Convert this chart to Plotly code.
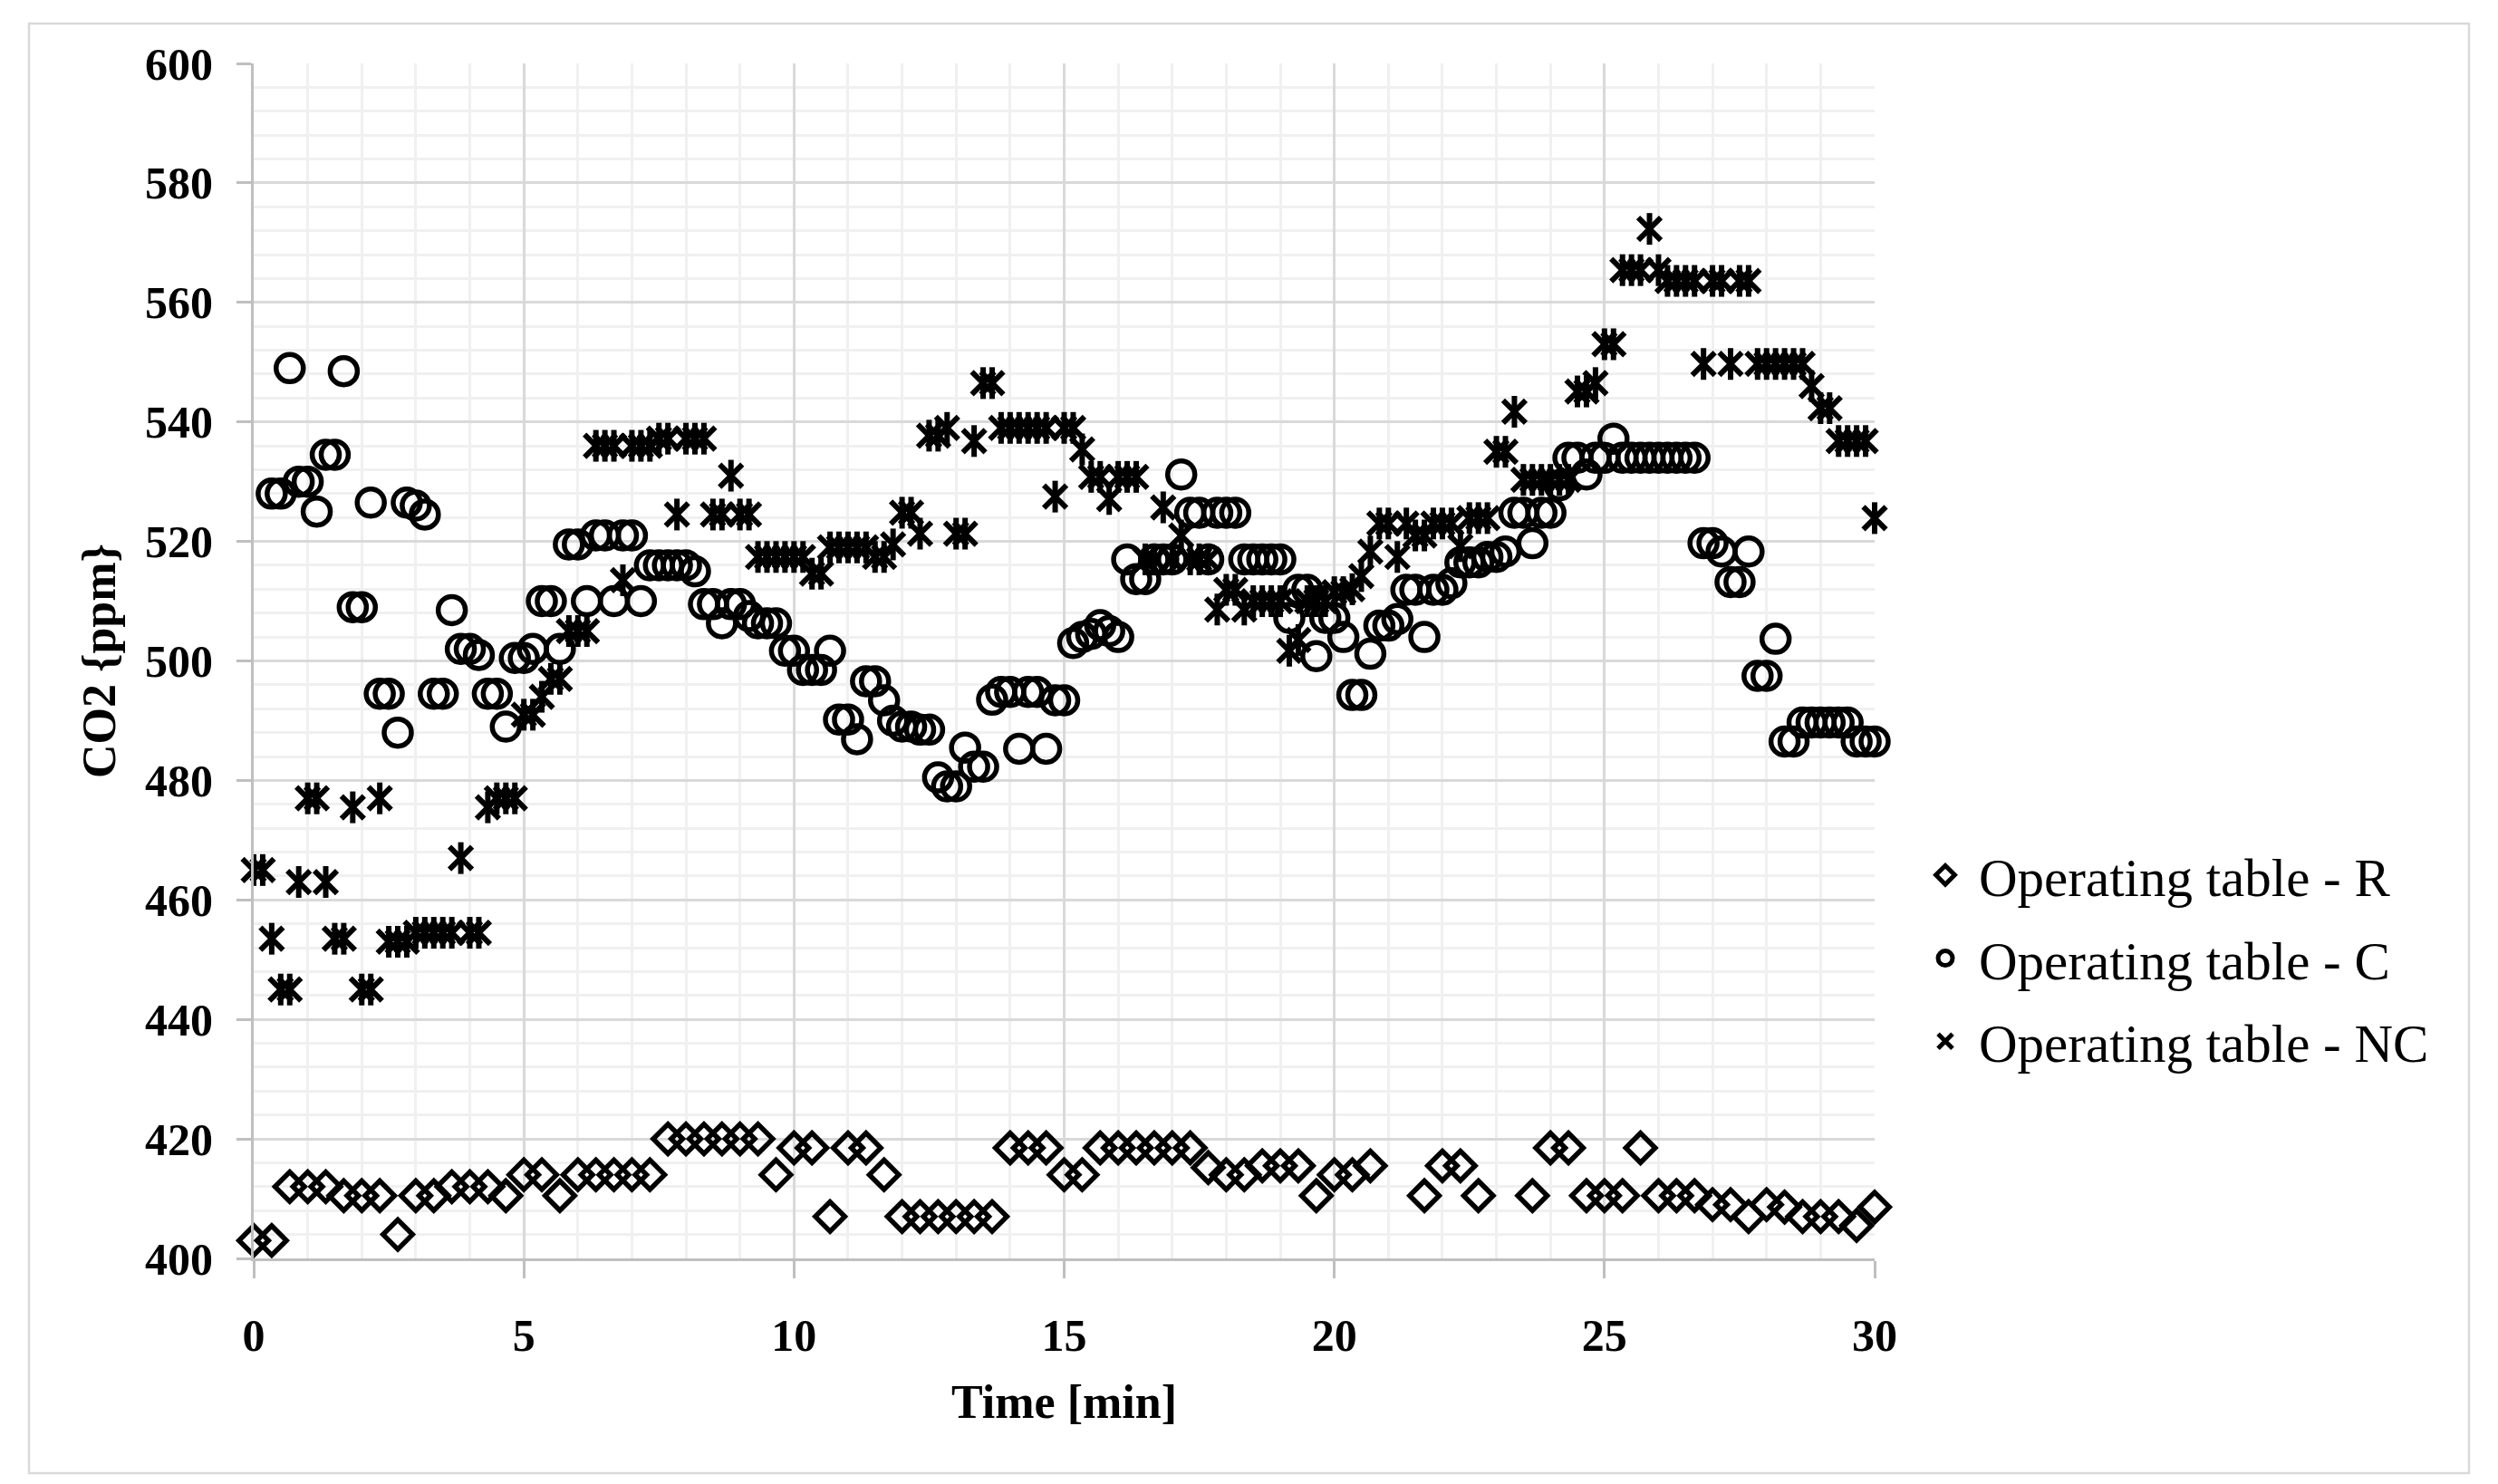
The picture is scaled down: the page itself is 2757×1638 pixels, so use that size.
import plotly.graph_objects as go

# ---------------- data ----------------
# Operating table - R : one reading every 20 s (1/3 min), None = no reading
step_r_min = 1 / 3
r_values = [403, 403, 412, 412, 412, 410.5, 410.5, 410.5, 404, 410.5,
            410.5, 412, 412, 412, 410.5, 414, 414, 410.5, 414, 414,
            414, 414, 414, 420, 420, 420, 420, 420, 420, 414,
            418.5, 418.5, 407, 418.5, 418.5, 414, 407, 407, 407, 407,
            407, 407, 418.5, 418.5, 418.5, 414, 414, 418.5, 418.5, 418.5,
            418.5, 418.5, 418.5, 415.2, 414, 414, 415.5, 415.5, 415.5, 410.5,
            414, 414, 415.5, None, None, 410.5, 415.5, 415.5, 410.5, None,
            None, 410.5, 418.5, 418.5, 410.5, 410.5, 410.5, 418.5, 410.5, 410.5,
            410.5, 409, 409, 407, 409, 408.6, 407, 407, 407, 405.5,
            408.6]

# Operating table - C and NC : one reading every 10 s (1/6 min)
step_cn_min = 1 / 6
c_values = [None, None, 528, 528, 549, 530, 530, 525, 534.5, 534.5,
            548.5, 509, 509, 526.5, 494.5, 494.5, 488, 526.5, 526, 524.5,
            494.5, 494.5, 508.5, 502, 502, 501, 494.5, 494.5, 489, 500.5,
            500.5, 502, 510, 510, 502, 519.5, 519.5, 510, 521, 521,
            510, 521, 521, 510, 516, 516, 516, 516, 516, 515,
            509.5, 509.5, 506.3, 509.5, 509.5, 507.5, 506.3, 506.3, 506.3, 501.7,
            501.7, 498.5, 498.5, 498.5, 501.7, 490.2, 490.2, 486.9, 496.6, 496.6,
            493.4, 490, 489, 489, 488.5, 488.5, 480.5, 479, 479, 485.5,
            482.3, 482.3, 493.5, 494.8, 494.8, 485.3, 494.8, 494.8, 485.3, 493.4,
            493.4, 503, 504, 504.5, 506, 505, 504, 517, 513.7, 513.7,
            517, 517, 517, 531.2, 524.8, 524.8, 517, 524.8, 524.8, 524.8,
            517, 517, 517, 517, 517, 507.2, 511.9, 511.9, 500.8, 507.2,
            507.2, 504, 494.3, 494.3, 501.2, 505.9, 505.9, 507, 511.9, 511.9,
            504, 511.9, 511.9, 513, 516.5, 516.5, 516.5, 517.4, 517.4, 518.3,
            524.8, 524.8, 519.7, 524.8, 524.8, 529.4, 534, 534, 531.2, 534,
            534, 537.2, 534, 534, 534, 534, 534, 534, 534, 534,
            534, 519.7, 519.7, 518.3, 513.2, 513.2, 518.3, 497.5, 497.5, 503.7,
            486.5, 486.5, 489.7, 489.7, 489.7, 489.7, 489.7, 489.7, 486.5, 486.5,
            486.5]

nc_values = [465, 465, 453.5, 445, 445, 463, 477, 477, 463, 453.5,
             453.5, 475.5, 445, 445, 477, 453, 453, 453, 454.5, 454.5,
             454.5, 454.5, 454.5, 467, 454.5, 454.5, 475.5, 477, 477, 477,
             491, 491, 494, 497, 497, 505, 505, 505, 536, 536,
             536, 513.5, 536, 536, 536, 537.2, 537.2, 524.5, 537.2, 537.2,
             537.2, 524.5, 524.5, 531, 524.5, 524.5, 517.4, 517.4, 517.4, 517.4,
             517.4, 517.4, 514.6, 514.6, 519, 519, 519, 519, 519, 517.4,
             517.4, 519.5, 524.8, 524.8, 521.3, 537.7, 537.7, 539, 521.3, 521.3,
             536.8, 546.5, 546.5, 539, 539, 539, 539, 539, 539, 527.5,
             539, 539, 535.4, 530.8, 530.8, 527.1, 530.8, 530.8, 530.8, 517,
             517, 525.7, 517, 521, 517, 517, 517, 508.6, 511.9, 511.9,
             508.6, 510, 510, 510, 510, 501.7, 503.5, 510, 510, 510,
             511.5, 511.5, 512, 514.2, 518.3, 523, 523, 517.4, 523, 521,
             521, 523, 523, 523, 519.2, 523.9, 523.9, 523.9, 535, 535,
             541.7, 530.3, 530.3, 530.3, 530.3, 530.3, 530.3, 545.1, 545.1, 546.5,
             553, 553, 565.4, 565.4, 565.4, 572.3, 565.4, 563.6, 563.6, 563.6,
             563.6, 549.7, 563.6, 563.6, 549.7, 563.6, 563.6, 549.7, 549.7, 549.7,
             549.7, 549.7, 549.7, 546, 542.3, 542.3, 536.8, 536.8, 536.8, 536.8,
             523.9]

series_names = ["Operating table - R", "Operating table - C", "Operating table - NC"]

t_r = [round(i * step_r_min, 4) for i in range(len(r_values))]
t_c = [round(i * step_cn_min, 4) for i in range(len(c_values))]
t_nc = [round(i * step_cn_min, 4) for i in range(len(nc_values))]

# ---------------- figure ----------------
FONT = "Liberation Serif, Times New Roman, serif"
BLACK = "#000000"

fig = go.Figure()

fig.add_trace(go.Scatter(
    x=t_r, y=r_values, mode="markers", name=series_names[0],
    legendgroup="r", cliponaxis=False,
    marker=dict(symbol="diamond-open", size=25, color=BLACK,
                line=dict(width=5.5, color=BLACK)),
))
fig.add_trace(go.Scatter(
    x=t_c, y=c_values, mode="markers", name=series_names[1],
    legendgroup="c", cliponaxis=False,
    marker=dict(symbol="circle-open", size=30, color=BLACK,
                line=dict(width=5.5, color=BLACK)),
))
fig.add_trace(go.Scatter(
    x=t_nc, y=nc_values, mode="markers", name=series_names[2],
    legendgroup="nc", cliponaxis=False,
    marker=dict(symbol="x-thin-open", size=25, color=BLACK,
                line=dict(width=6, color=BLACK)),
))
# vertical bar of the NC asterisk
fig.add_trace(go.Scatter(
    x=t_nc, y=nc_values, mode="markers", name=series_names[2],
    legendgroup="nc", showlegend=False, cliponaxis=False, hoverinfo="skip",
    marker=dict(symbol="line-ns-open", size=25, color=BLACK,
                line=dict(width=6, color=BLACK)),
))

W, H = 2757, 1638
ML, MR, MT, MB = 280, 688, 70, 249
pw, ph = W - ML - MR, H - MT - MB

axis_common = dict(
    showline=True, linecolor="#bfbfbf", linewidth=3,
    showgrid=True, gridcolor="#d9d9d9", gridwidth=3,
    zeroline=False, ticks="outside", tickcolor="#bfbfbf", tickwidth=3,
    tickfont=dict(family=FONT, size=50, color=BLACK, weight="bold"),
)

fig.update_xaxes(
    range=[0, 30], tick0=0, dtick=5, ticklen=19, ticklabelstandoff=20,
    minor=dict(dtick=1, showgrid=True, gridcolor="#f0f0f0", gridwidth=3, ticks=""),
    title=dict(text="Time [min]", standoff=28,
               font=dict(family=FONT, size=52, color=BLACK, weight="bold")),
    **axis_common,
)
fig.update_yaxes(
    range=[400, 600], tick0=400, dtick=20, ticklen=16, ticklabelstandoff=16,
    minor=dict(dtick=4, showgrid=True, gridcolor="#f0f0f0", gridwidth=3, ticks=""),
    title=dict(text="CO2 {ppm}", standoff=16,
               font=dict(family=FONT, size=52, color=BLACK, weight="bold")),
    **axis_common,
)

# outer chart border
fig.add_shape(type="rect", xref="paper", yref="paper",
              x0=(32 - ML) / pw, x1=(2725 - ML) / pw,
              y0=(MT + ph - 1626) / ph, y1=(MT + ph - 26) / ph,
              line=dict(color="#d9d9d9", width=2.5), fillcolor="rgba(0,0,0,0)",
              layer="below")

fig.update_layout(
    width=W, height=H, autosize=False,
    margin=dict(l=ML, r=MR, t=MT, b=MB, pad=0),
    paper_bgcolor="white", plot_bgcolor="white",
    showlegend=True,
    legend=dict(x=(2110 - ML) / pw, xanchor="left",
                y=(MT + ph - 1058) / ph, yanchor="middle",
                font=dict(family=FONT, size=59, color=BLACK),
                tracegroupgap=12, itemsizing="trace", itemwidth=64,
                bgcolor="rgba(0,0,0,0)", borderwidth=0),
)

fig.write_html("out.html", config={"displayModeBar": False},
               post_script="document.body.style.margin='0';document.body.style.overflow='hidden';")
